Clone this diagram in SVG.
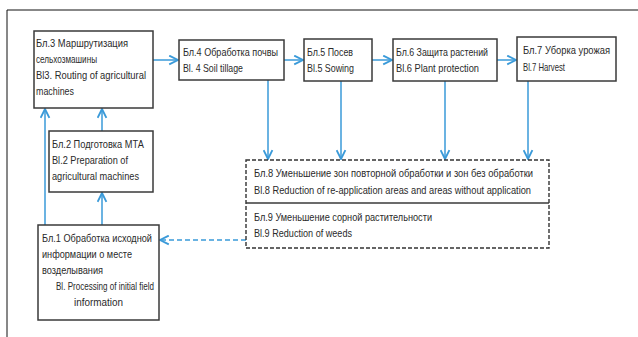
<svg xmlns="http://www.w3.org/2000/svg" width="638" height="337" viewBox="0 0 638 337">
<defs>
<marker id="ah" viewBox="0 0 10 10" refX="9" refY="5" markerWidth="11" markerHeight="11" markerUnits="userSpaceOnUse" orient="auto">
<path d="M1,1 L9,5 L1,9" fill="none" stroke="#3a9ad9" stroke-width="1.7"/>
</marker>
<style>
.box{fill:#fff;stroke:#3a3a3a;stroke-width:1.5}
.dbox{fill:#fff;stroke:#333;stroke-width:1.4;stroke-dasharray:4 2}
.t{font-family:"Liberation Sans",Arial,sans-serif;font-size:10.5px;fill:#2a2a2a}
.c{fill:none;stroke:#3a9ad9;stroke-width:1.5;marker-end:url(#ah)}
.cd{fill:none;stroke:#3a9ad9;stroke-width:1.5;stroke-dasharray:5 3;marker-end:url(#ah)}
</style>
</defs>
<rect width="638" height="337" fill="#fff"/>
<path d="M7,337 V10 H638" fill="none" stroke="#111" stroke-width="1"/>

<g id="connectors">
<path class="c" d="M153,60 H178"/>
<path class="c" d="M284,60 H303"/>
<path class="c" d="M372,60 H392"/>
<path class="c" d="M497,60 H516"/>
<path class="c" d="M268,80 V159"/>
<path class="c" d="M341,81 V159"/>
<path class="c" d="M445,81 V159"/>
<path class="c" d="M528,81 V159"/>
<path class="c" d="M102,131 V109"/>
<path class="c" d="M102,225 V193"/>
<path class="c" d="M45,225 V109"/>
<path class="cd" d="M246,240 H160"/>
</g>

<g id="n3">
<rect class="box" x="34" y="31" width="119" height="77"/>
<text class="t" x="36" y="47" textLength="92" lengthAdjust="spacingAndGlyphs">Бл.3 Маршрутизация</text>
<text class="t" x="36" y="63" textLength="61" lengthAdjust="spacingAndGlyphs">сельхозмашины</text>
<text class="t" x="36" y="79" textLength="110" lengthAdjust="spacingAndGlyphs">Bl3. Routing of agricultural</text>
<text class="t" x="36" y="95" textLength="38" lengthAdjust="spacingAndGlyphs">machines</text>
</g>
<g id="n4">
<rect class="box" x="179" y="40" width="105" height="40"/>
<text class="t" x="183" y="56" textLength="95" lengthAdjust="spacingAndGlyphs">Бл.4 Обработка почвы</text>
<text class="t" x="183" y="72" textLength="60" lengthAdjust="spacingAndGlyphs">Bl. 4 Soil tillage</text>
</g>
<g id="n5">
<rect class="box" x="304" y="39" width="68" height="42"/>
<text class="t" x="307" y="56" textLength="46" lengthAdjust="spacingAndGlyphs">Бл.5 Посев</text>
<text class="t" x="307" y="72" textLength="47" lengthAdjust="spacingAndGlyphs">Bl.5 Sowing</text>
</g>
<g id="n6">
<rect class="box" x="393" y="39" width="104" height="42"/>
<text class="t" x="396" y="56" textLength="92" lengthAdjust="spacingAndGlyphs">Бл.6 Защита растений</text>
<text class="t" x="396" y="72" textLength="83" lengthAdjust="spacingAndGlyphs">Bl.6 Plant protection</text>
</g>
<g id="n7">
<rect class="box" x="517" y="37" width="99" height="44"/>
<text class="t" x="523" y="54" textLength="87" lengthAdjust="spacingAndGlyphs">Бл.7 Уборка урожая</text>
<text class="t" x="523" y="71" textLength="42" lengthAdjust="spacingAndGlyphs">Bl.7 Harvest</text>
</g>
<g id="n2">
<rect class="box" x="49" y="131" width="104" height="61"/>
<text class="t" x="52" y="148" textLength="92" lengthAdjust="spacingAndGlyphs">Бл.2 Подготовка МТА</text>
<text class="t" x="52" y="164" textLength="76" lengthAdjust="spacingAndGlyphs">Bl.2 Preparation of</text>
<text class="t" x="52" y="180" textLength="87" lengthAdjust="spacingAndGlyphs">agricultural machines</text>
</g>
<g id="n1">
<rect class="box" x="38" y="225" width="121" height="95"/>
<text class="t" x="42" y="242" textLength="110" lengthAdjust="spacingAndGlyphs">Бл.1 Обработка исходной</text>
<text class="t" x="42" y="258" textLength="90" lengthAdjust="spacingAndGlyphs">информации о месте</text>
<text class="t" x="42" y="274" textLength="61" lengthAdjust="spacingAndGlyphs">возделывания</text>
<text class="t" x="56" y="290" textLength="98" lengthAdjust="spacingAndGlyphs">Bl. Processing of initial field</text>
<text class="t" x="74" y="306" textLength="49" lengthAdjust="spacingAndGlyphs">information</text>
</g>
<g id="n8_9">
<rect class="dbox" x="246" y="160" width="303" height="88"/>
<line x1="246" y1="203" x2="549" y2="203" stroke="#3a3a3a" stroke-width="1.5"/>
<text class="t" x="254" y="177" textLength="279" lengthAdjust="spacingAndGlyphs">Бл.8 Уменьшение зон повторной обработки и зон без обработки</text>
<text class="t" x="254" y="194" textLength="277" lengthAdjust="spacingAndGlyphs">Bl.8 Reduction of re-application areas and areas without application</text>
<text class="t" x="254" y="221" textLength="178" lengthAdjust="spacingAndGlyphs">Бл.9 Уменьшение сорной растительности</text>
<text class="t" x="254" y="237" textLength="98" lengthAdjust="spacingAndGlyphs">Bl.9 Reduction of weeds</text>
</g>
</svg>
